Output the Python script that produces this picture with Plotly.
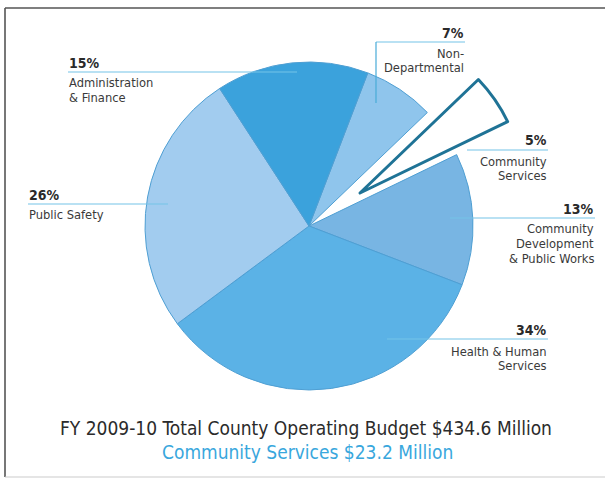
import plotly.graph_objects as go

# ---- data ----
categories = ["Non-Departmental", "Community Services", "Community Development & Public Works",
              "Health & Human Services", "Public Safety", "Administration & Finance"]
shares = [7, 5, 13, 34, 26, 15]
pct_labels = ["7%", "5%", "13%", "34%", "26%", "15%"]
name_lines = [["Non-", "Departmental"], ["Community", "Services"],
              ["Community", "Development", "& Public Works"],
              ["Health & Human", "Services"], ["Public Safety"],
              ["Administration", "& Finance"]]
title_line1 = "FY 2009-10 Total County Operating Budget $434.6 Million"
title_line2 = "Community Services $23.2 Million"

W, H = 605, 479
def X(px): return px / W
def Y(py): return 1 - py / H

slice_colors = ["#8fc5ec", "rgba(0,0,0,0)", "#78b5e3", "#5bb2e6", "#a2ccef", "#3ba2dc"]
edge = "#4f9fd3"
FONT = "DejaVu Sans Condensed"

fig = go.Figure()

# main pie (community services slice left empty -> gap)
cx, cy, r = 309, 226, 164
fig.add_trace(go.Pie(
    labels=categories, values=shares, sort=False, direction="clockwise", rotation=21,
    textinfo="none", hoverinfo="label+percent", showlegend=False,
    marker=dict(colors=slice_colors,
                line=dict(color=[edge, "rgba(0,0,0,0)", edge, edge, edge, edge],
                          width=[1, 0, 1, 1, 1, 1])),
    domain=dict(x=[X(cx - r), X(cx + r)], y=[Y(cy + r), Y(cy - r)]),
))

# exploded community services wedge (outline only)
ex, ey = 360, 193
fig.add_trace(go.Pie(
    labels=categories, values=shares, sort=False, direction="clockwise", rotation=21,
    textinfo="none", hoverinfo="skip", showlegend=False,
    marker=dict(colors=["rgba(0,0,0,0)", "white", "rgba(0,0,0,0)", "rgba(0,0,0,0)",
                        "rgba(0,0,0,0)", "rgba(0,0,0,0)"],
                line=dict(color=["rgba(0,0,0,0)", "#1f7396", "rgba(0,0,0,0)",
                                 "rgba(0,0,0,0)", "rgba(0,0,0,0)", "rgba(0,0,0,0)"],
                          width=[0, 3, 0, 0, 0, 0])),
    domain=dict(x=[X(ex - r), X(ex + r)], y=[Y(ey + r), Y(ey - r)]),
))

lead = "#74c3e8"
shapes = []
def seg(x0, y0, x1, y1, color=lead, w=1.2):
    shapes.append(dict(type="line", xref="paper", yref="paper",
                       x0=X(x0), y0=Y(y0), x1=X(x1), y1=Y(y1),
                       line=dict(color=color, width=w), layer="above"))

# leader lines
seg(376, 42, 465, 42)
seg(376, 42, 376, 103, color="#48abd8")
seg(467, 150, 548, 150)
seg(450, 218, 595, 218)
seg(387, 339, 548, 339)
seg(68, 72, 297, 72)
seg(28, 204, 168, 204)

# frame
seg(5, 8, 605, 8, color="#555555", w=1.6)
seg(5, 8, 5, 477, color="#555555", w=1.6)
seg(5, 477, 605, 477, color="#cccccc", w=1.2)

ann = []
def txt(s, x, y, anchor, size=12, bold=False, color="#333333", family=FONT):
    ann.append(dict(text=("<b>%s</b>" % s) if bold else s, x=X(x), y=Y(y),
                    xref="paper", yref="paper", xanchor=anchor, yanchor="middle",
                    showarrow=False, borderpad=0,
                    font=dict(family=family, size=size, color=color)))

# label placement (pixel positions of text blocks)
label_pos = [(465, 33, 53, "right"), (548, 140, 161, "right"), (595, 209, 229, "right"),
             (548, 330, 351, "right"), (28, 195, 214, "left"), (68, 63, 83, "left")]
for i, (lx, py, ny, anc) in enumerate(label_pos):
    txt(pct_labels[i], lx, py, anc, size=14, bold=True, color="#2a2a2a")
    for j, line in enumerate(name_lines[i]):
        txt(line, lx, ny + 14.5 * j, anc, size=12.8, color="#3a3a3a")

txt(title_line1, 306, 428, "center", size=19, color="#2b2b2b")
txt(title_line2, 307, 452, "center", size=19, color="#39a7dd")

fig.update_layout(width=W, height=H, margin=dict(l=0, r=0, t=0, b=0),
                  paper_bgcolor="white", plot_bgcolor="white",
                  shapes=shapes, annotations=ann)
fig.write_html("out.html", config={"displayModeBar": False},
               post_script="document.body.style.margin='0';document.body.style.overflow='hidden';")
